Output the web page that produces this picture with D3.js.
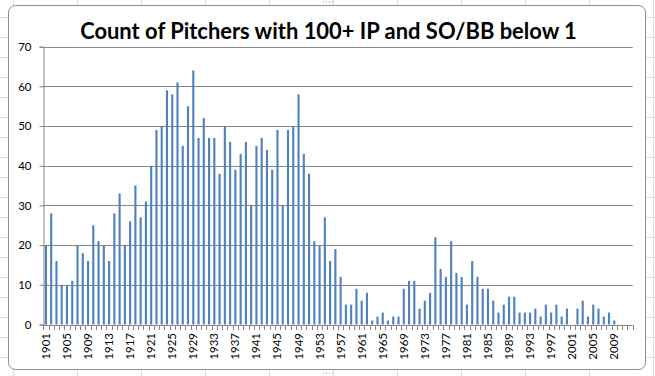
<!DOCTYPE html>
<html>
<head>
<meta charset="utf-8">
<script src="https://cdn.jsdelivr.net/npm/d3@7"></script>
<style>
  body { margin: 0; background: #fff; }
  svg { display: block; }
  text { font-family: Lato, "Open Sans", sans-serif; }
</style>
</head>
<body>
<div id="chart"></div>
<script>
// chart values
const chartTitle = "Count of Pitchers with 100+ IP and SO/BB below 1";
const years = d3.range(1901, 2013).map(String);
const counts = [
    20, 28, 16, 10, 10, 11, 20, 18, 16, 25,
    21, 20, 16, 28, 33, 20, 26, 35, 27, 31,
    40, 49, 50, 59, 58, 61, 45, 55, 64, 47,
    52, 47, 47, 38, 50, 46, 39, 43, 46, 30,
    45, 47, 44, 39, 49, 30, 49, 50, 58, 43,
    38, 21, 20, 27, 16, 19, 12, 5, 5, 9,
    6, 8, 1, 2, 3, 1, 2, 2, 9, 11,
    11, 4, 6, 8, 22, 14, 12, 21, 13, 12,
    5, 16, 12, 9, 9, 6, 3, 5, 7, 7,
    3, 3, 3, 4, 2, 5, 3, 5, 2, 4,
    0, 4, 6, 2, 5, 4, 2, 3, 1, 0,
    0, 0
];
const xTickLabels = ["1901", "1905", "1909", "1913", "1917", "1921", "1925", "1929",
    "1933", "1937", "1941", "1945", "1949", "1953", "1957", "1961", "1965", "1969",
    "1973", "1977", "1981", "1985", "1989", "1993", "1997", "2001", "2005", "2009"];
const yTicks = [0, 10, 20, 30, 40, 50, 60, 70];

const W = 655, H = 376;

const svg = d3.select("#chart").append("svg")
    .attr("width", W)
    .attr("height", H);

// spreadsheet grid behind the chart
const sheet = svg.append("g").attr("stroke", "#dadcdd").attr("stroke-width", 1);
d3.range(13, W, 64).forEach(x => {
    sheet.append("line").attr("x1", x + 0.5).attr("x2", x + 0.5).attr("y1", 0).attr("y2", H);
});
d3.range(17, H, 20).forEach(y => {
    sheet.append("line").attr("x1", 0).attr("x2", W).attr("y1", y + 0.5).attr("y2", y + 0.5);
});

// chart area
svg.append("rect")
    .attr("x", 8.5).attr("y", 5.5)
    .attr("width", 637).attr("height", 364)
    .attr("rx", 7)
    .attr("fill", "#fff")
    .attr("stroke", "#8e8e8e");

// selection handles (little dots)
const handles = svg.append("g").attr("fill", "#a0a0a0");
[[328, 2], [328, 373]].forEach(([hx, hy]) => {
    [-4.5, -1.5, 1.5, 4.5].forEach(dx => {
        handles.append("rect").attr("x", hx + dx - 0.5).attr("y", hy - 0.5)
            .attr("width", 1).attr("height", 1);
    });
});

const plot = {left: 43.3, right: 632.7, top: 46.7, bottom: 324.5};

const x = d3.scaleBand()
    .domain(years)
    .range([plot.left, plot.right])
    .padding(0);

const y = d3.scaleLinear()
    .domain([0, 70])
    .range([plot.bottom, plot.top]);

// gridlines
svg.append("g")
    .selectAll("line")
    .data(yTicks.filter(d => d > 0))
    .join("line")
    .attr("x1", plot.left).attr("x2", plot.right)
    .attr("y1", d => Math.round(y(d)) + 0.5)
    .attr("y2", d => Math.round(y(d)) + 0.5)
    .attr("stroke", "#868686");

// bars
const barW = x.bandwidth() * 0.4;
svg.append("g")
    .selectAll("rect")
    .data(counts)
    .join("rect")
    .attr("x", (d, i) => x(years[i]) + (x.bandwidth() - barW) / 2)
    .attr("y", d => y(d))
    .attr("width", barW)
    .attr("height", d => y(0) - y(d))
    .attr("fill", "#4f81bd");

// y axis
const yAxis = d3.axisLeft(y)
    .tickValues(yTicks)
    .tickSize(4)
    .tickPadding(8);

const yAxisGroup = svg.append("g")
    .attr("transform", `translate(${Math.round(plot.left) + 0.5}, 0)`)
    .call(yAxis);
yAxisGroup.select(".domain").attr("stroke", "#868686");
yAxisGroup.selectAll(".tick line").attr("stroke", "#868686");
yAxisGroup.selectAll(".tick text")
    .attr("font-family", "Lato, sans-serif")
    .attr("font-size", 11.5)
    .attr("fill", "#000");

// x axis line and tick marks at category boundaries
svg.append("line")
    .attr("x1", plot.left).attr("x2", plot.right)
    .attr("y1", Math.round(plot.bottom) + 0.5).attr("y2", Math.round(plot.bottom) + 0.5)
    .attr("stroke", "#868686");

svg.append("g")
    .selectAll("line")
    .data(years.concat(["end"]))
    .join("line")
    .attr("x1", (d, i) => Math.round(i < years.length ? x(d) : plot.right) + 0.5)
    .attr("x2", (d, i) => Math.round(i < years.length ? x(d) : plot.right) + 0.5)
    .attr("y1", Math.round(plot.bottom))
    .attr("y2", Math.round(plot.bottom) + 5)
    .attr("stroke", "#868686");

// x labels
svg.append("g")
    .selectAll("text")
    .data(xTickLabels)
    .join("text")
    .attr("transform", d => `translate(${x(d) + x.bandwidth() / 2 + 4}, 333) rotate(-90)`)
    .attr("text-anchor", "end")
    .attr("font-size", 11.5)
    .attr("fill", "#000")
    .text(d => d);

// title
const title = svg.append("text")
    .attr("x", 328.5)
    .attr("y", 38.5)
    .attr("text-anchor", "middle")
    .attr("font-weight", "bold")
    .attr("font-size", 22)
    .attr("fill", "#000")
    .text(chartTitle);
const tw = title.node().getComputedTextLength();
title.attr("font-size", 22 * 497 / tw);
</script>
</body>
</html>
